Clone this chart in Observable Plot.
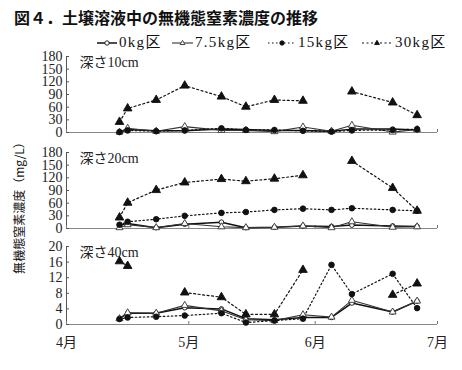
<!DOCTYPE html>
<html><head><meta charset="utf-8">
<script src="https://cdn.jsdelivr.net/npm/d3@7"></script>
<script src="https://cdn.jsdelivr.net/npm/@observablehq/plot@0.6"></script>
<style>
body{margin:0;background:#fff;}
#wrap{position:relative;width:462px;height:370px;overflow:hidden;font-family:"Liberation Serif","Noto Sans CJK JP",serif;color:#111;}
#title{position:absolute;left:14px;top:5px;font:bold 16px "Noto Sans CJK JP",sans-serif;white-space:nowrap;}
#legend{position:absolute;left:0;top:34px;width:462px;height:18px;font-size:15px;letter-spacing:1.3px;white-space:nowrap;}
#legend .sw{position:absolute;top:4px;}
#legend .tx{position:absolute;top:0;line-height:17px;}
#ylab{position:absolute;left:18px;top:205px;transform:translate(-50%,-50%) rotate(-90deg);font:12px "Noto Sans CJK JP",sans-serif;white-space:nowrap;}
.panel{position:absolute;left:0;}
</style></head><body><div id="wrap">
<div id="title"></div><div id="legend"></div><div id="ylab"></div>
</div>
<script>
// ---- data ----
const titleText = "図４．土壌溶液中の無機態窒素濃度の推移";
const yLabelText = "無機態窒素濃度（mg/L）";
const seriesNames = ["0kg区", "7.5kg区", "15kg区", "30kg区"];
const dates = ["2000-04-14","2000-04-16","2000-04-23","2000-04-30","2000-05-09","2000-05-15",
               "2000-05-22","2000-05-29","2000-06-05","2000-06-10","2000-06-20","2000-06-26"];
const monthTicks = ["2000-04-01","2000-05-01","2000-06-01","2000-07-01"];
const monthLabels = ["4月","5月","6月","7月"];
const panelLabels = ["深さ10cm","深さ20cm","深さ40cm"];
const yTicksTop = [0,30,60,90,120,150,180];
const yTicksBottom = [0,4,8,12,16,20];

const d10_0kg  = [2, 7, 4, 4, 8, 7, 5, 5, 3, 8, 8, 6];
const d10_75kg = [1, 10, 3, 14, 5, 5, 2, 13, 3, 17, 1, 7];
const d10_15kg = [1, 5, 3, 5, 10, 6, 6, 4, 2, 5, 6, 8];
const d10_30kg = [25, 57, 77, 111, 85, 61, 77, 75, null, 97, 71, 41];

const d20_0kg  = [8, 12, 2, 10, 15, 2, 3, 6, 5, 8, 6, 5];
const d20_75kg = [2, 9, 2, 12, 4, 2, 3, 6, 2, 16, 3, 4];
const d20_15kg = [9, 16, 22, 30, 37, 39, 44, 47, 44, 48, 44, 42];
const d20_30kg = [26, 61, 91, 109, 117, 112, 118, 126, null, 160, 96, 42];

const d40_0kg  = [1.5, 2.9, 2.9, 4.3, 4.0, 1.5, 1.2, 1.8, 1.8, 5.5, 3.2, 6.0];
const d40_75kg = [1.5, 3.0, 2.9, 4.9, 3.5, 1.2, 1.0, 2.5, 1.9, 6.2, 3.2, 6.0];
const d40_15kg = [1.4, 1.8, 2.0, 2.3, 2.9, 0.5, 1.0, 1.5, 15.3, 7.8, 13.0, 4.2];
const d40_30kg = [16.2, 15.0, null, 8.2, 7.0, 2.6, 2.6, 14.0, null, null, 7.6, 10.5];

// ---- styles ----
const styles = [
  {stroke:"#111", sw:1.5, dash:null, symbol:"circle", fill:"white", r:2.3},
  {stroke:"#333", sw:1.1, dash:null, symbol:"triangle", fill:"white", r:2.6},
  {stroke:"#111", sw:1.2, dash:"1.5,2.5", symbol:"circle", fill:"#111", r:2.8},
  {stroke:"#111", sw:1.2, dash:"2,2.5", symbol:"triangle", fill:"#111", r:3.2}
];
const legendPos = [{s:97, w:20, t:119}, {s:172, w:21, t:195}, {s:268, w:28, t:298}, {s:362, w:30, t:395}];
const W = 462, ML = 66, MR = 25, TICK = 3;

const parse = s => new Date(s);
const X = dates.map(parse);
const MT = monthTicks.map(parse);

document.getElementById("title").textContent = titleText;
document.getElementById("ylab").textContent = yLabelText;

// legend
const leg = document.getElementById("legend");
const symPath = (sym, r) => sym === "circle"
  ? `<circle cx="0" cy="0" r="${r}"/>`
  : `<path d="M0,${-r*1.2}L${r*1.1},${r*0.7}L${-r*1.1},${r*0.7}Z"/>`;
seriesNames.forEach((n, i) => {
  const s = styles[i], p = legendPos[i];
  const sw = document.createElement("div"); sw.className = "sw";
  sw.style.left = p.s + "px";
  sw.innerHTML = `<svg width="${p.w}" height="10" style="display:block"><line x1="0" x2="${p.w}" y1="5" y2="5" stroke="${s.stroke}" stroke-width="${s.sw}" ${s.dash ? `stroke-dasharray="${s.dash}"` : ""}/>` +
    `<g transform="translate(${p.w/2},5)" fill="${s.fill}" stroke="${s.stroke}" stroke-width="0.9">${symPath(s.symbol, 2.2)}</g></svg>`;
  const tx = document.createElement("div"); tx.className = "tx";
  tx.style.left = p.t + "px"; tx.textContent = n;
  leg.appendChild(sw); leg.appendChild(tx);
});

function panel(values, yMax, yTicks, label, top, bottom) {
  const H = bottom ? 114 : 87, MT_ = 6, MB = bottom ? 30 : 5;
  const innerW = W - ML - MR, innerH = H - MT_ - MB;
  const marks = [
    Plot.ruleY([0], {stroke:"#888", strokeWidth:1}),
    Plot.ruleX([MT[0]], {stroke:"#555", strokeWidth:1}),
    Plot.axisY({ticks: yTicks, tickSize:0, tickPadding:4, fontSize:14, fontFamily:"Liberation Serif", fill:"#222", label:null}),
    Plot.tickY(yTicks, {y: d => d, stroke:"#555", insetRight: innerW - TICK}),
    Plot.tickX(MT, {x: d => d, stroke:"#777", insetTop: innerH - TICK}),
    Plot.text([label], {frameAnchor:"top-left", dx:13, dy:1, fontSize:14, lineAnchor:"top", fontFamily:"Liberation Serif, Noto Sans CJK JP", fill:"#222"})
  ];
  if (bottom) {
    marks.push(Plot.axisX({ticks: MT, tickSize:0, tickPadding:13, fontSize:14, fontFamily:"Liberation Serif, Noto Sans CJK JP", fill:"#222", label:null,
      tickFormat: d => monthLabels[MT.findIndex(t => +t === +d)]}));
  }
  values.forEach((vals, i) => {
    const s = styles[i];
    const rows = X.map((d, j) => ({date:d, v: vals[j] == null ? NaN : vals[j]}));
    marks.push(Plot.line(rows, {x:"date", y:"v", stroke:s.stroke, strokeWidth:s.sw, strokeDasharray:s.dash ?? undefined}));
  });
  values.forEach((vals, i) => {
    const s = styles[i];
    const rows = X.map((d, j) => ({date:d, v: vals[j]})).filter(r => r.v != null);
    marks.push(Plot.dot(rows, {x:"date", y:"v", symbol: s.symbol, r: s.r, fill: s.fill, stroke: s.stroke, strokeWidth:0.9}));
  });
  const p = Plot.plot({
    width:W, height:H,
    marginLeft:ML, marginRight:MR, marginTop:MT_, marginBottom:MB,
    x:{type:"utc", domain:[MT[0], MT[3]], axis: null},
    y:{domain:[0, yMax], axis: null},
    style:{background:"transparent", overflow:"visible"},
    marks
  });
  p.classList.add("panel");
  p.style.top = top + "px";
  document.getElementById("wrap").appendChild(p);
}

panel([d10_0kg, d10_75kg, d10_15kg, d10_30kg], 180, yTicksTop, panelLabels[0], 50, false);
panel([d20_0kg, d20_75kg, d20_15kg, d20_30kg], 180, yTicksTop, panelLabels[1], 146, false);
panel([d40_0kg, d40_75kg, d40_15kg, d40_30kg], 20, yTicksBottom, panelLabels[2], 240, true);
</script></body></html>
